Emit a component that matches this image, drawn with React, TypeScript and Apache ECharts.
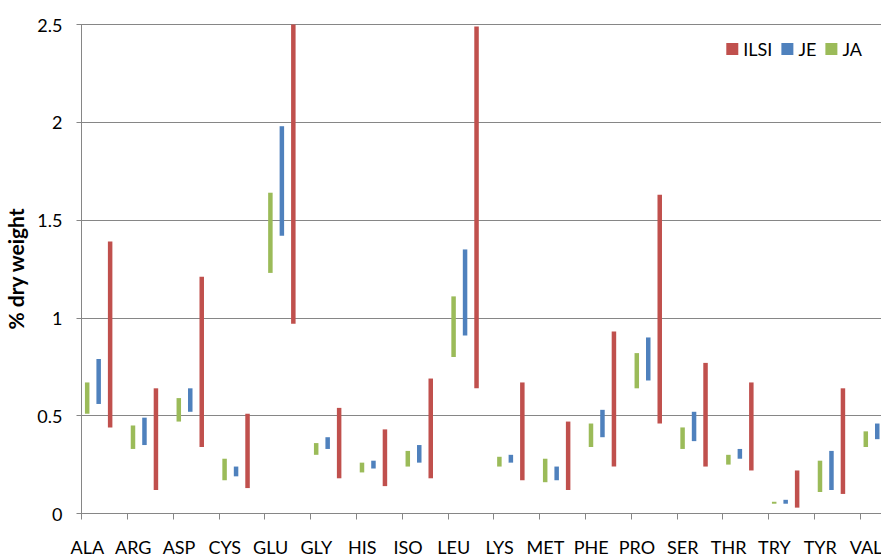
import React, { useEffect, useRef } from "react";
import * as echarts from "echarts";

const categories = ["ALA", "ARG", "ASP", "CYS", "GLU", "GLY", "HIS", "ISO", "LEU", "LYS", "MET", "PHE", "PRO", "SER", "THR", "TRY", "TYR", "VAL"];
const jaLow = [0.51, 0.33, 0.47, 0.17, 1.23, 0.30, 0.21, 0.24, 0.80, 0.24, 0.16, 0.34, 0.64, 0.33, 0.25, 0.05, 0.11, 0.34];
const jaHigh = [0.67, 0.45, 0.59, 0.28, 1.64, 0.36, 0.26, 0.32, 1.11, 0.29, 0.28, 0.46, 0.82, 0.44, 0.30, 0.06, 0.27, 0.42];
const jeLow = [0.56, 0.35, 0.52, 0.19, 1.42, 0.33, 0.23, 0.26, 0.91, 0.26, 0.17, 0.39, 0.68, 0.37, 0.28, 0.05, 0.12, 0.38];
const jeHigh = [0.79, 0.49, 0.64, 0.24, 1.98, 0.39, 0.27, 0.35, 1.35, 0.30, 0.24, 0.53, 0.90, 0.52, 0.33, 0.07, 0.32, 0.46];
const ilsiLow = [0.44, 0.12, 0.34, 0.13, 0.97, 0.18, 0.14, 0.18, 0.64, 0.17, 0.12, 0.24, 0.46, 0.24, 0.22, 0.03, 0.10, 0.30];
const ilsiHigh = [1.39, 0.64, 1.21, 0.51, 2.50, 0.54, 0.43, 0.69, 2.49, 0.67, 0.47, 0.93, 1.63, 0.77, 0.67, 0.22, 0.64, 0.80];

const FONT = "Lato";
const GRAY = "#868686";

function rangeSeries(name: string, low: number[], high: number[], color: string) {
  const base = {
    name: name + "_base",
    type: "bar",
    stack: name,
    barWidth: 4.5,
    barGap: "155%",
    itemStyle: { color: "transparent" },
    emphasis: { disabled: true },
    silent: true,
    data: low,
  };
  const range = {
    name,
    type: "bar",
    stack: name,
    barWidth: 4.5,
    barGap: "155%",
    itemStyle: { color },
    emphasis: { disabled: true },
    data: high.map((h, i) => Math.round((h - low[i]) * 1000) / 1000),
  };
  return [base, range];
}

export default function App() {
  const ref = useRef<HTMLDivElement>(null);
  useEffect(() => {
    if (!ref.current) return;
    const chart = echarts.init(ref.current, null, { renderer: "svg" });
    chart.setOption({
      animation: false,
      backgroundColor: "#ffffff",
      textStyle: { fontFamily: FONT },
      legend: {
        data: ["ILSI", "JE", "JA"],
        right: 14,
        top: 35,
        icon: "rect",
        itemWidth: 12,
        itemHeight: 12,
        itemGap: 9,
        textStyle: { fontFamily: FONT, fontSize: 18, color: "#000" },
        selectedMode: false,
      },
      grid: {
        left: 81.5,
        top: 24.5,
        width: 824.4,
        height: 489,
        containLabel: false,
        outerBoundsMode: "none",
      },
      xAxis: {
        type: "category",
        data: categories,
        boundaryGap: true,
        axisLine: { show: true, lineStyle: { color: GRAY, width: 1 } },
        axisTick: { show: true, alignWithLabel: false, length: 6, lineStyle: { color: GRAY } },
        axisLabel: {
          fontFamily: FONT,
          fontSize: 18,
          color: "#000",
          margin: 24,
          interval: 0,
          padding: [0, 34, 0, 0],
        },
        splitLine: { show: false },
      },
      yAxis: {
        type: "value",
        min: 0,
        max: 2.5,
        interval: 0.5,
        name: "% dry weight",
        nameLocation: "middle",
        nameRotate: 90,
        nameGap: 53,
        nameTextStyle: { fontFamily: FONT, fontSize: 21, fontWeight: "bold", color: "#000" },
        axisLine: { show: true, lineStyle: { color: GRAY, width: 1 } },
        axisTick: { show: true, length: 5, lineStyle: { color: GRAY } },
        axisLabel: { fontFamily: FONT, fontSize: 18, color: "#000", margin: 19 },
        splitLine: { show: true, lineStyle: { color: GRAY, width: 1 } },
      },
      series: [
        ...rangeSeries("JA", jaLow, jaHigh, "#9BBB59"),
        ...rangeSeries("JE", jeLow, jeHigh, "#4F81BD"),
        ...rangeSeries("ILSI", ilsiLow, ilsiHigh, "#C0504D"),
        { name: "pad", type: "bar", stack: "pad", barWidth: 4.5, barGap: "155%", data: [] },
      ],
    });
    return () => chart.dispose();
  }, []);
  return (
    <div
      ref={ref}
      style={{ position: "fixed", left: 0, top: 0, width: 881, height: 556 }}
    />
  );
}
